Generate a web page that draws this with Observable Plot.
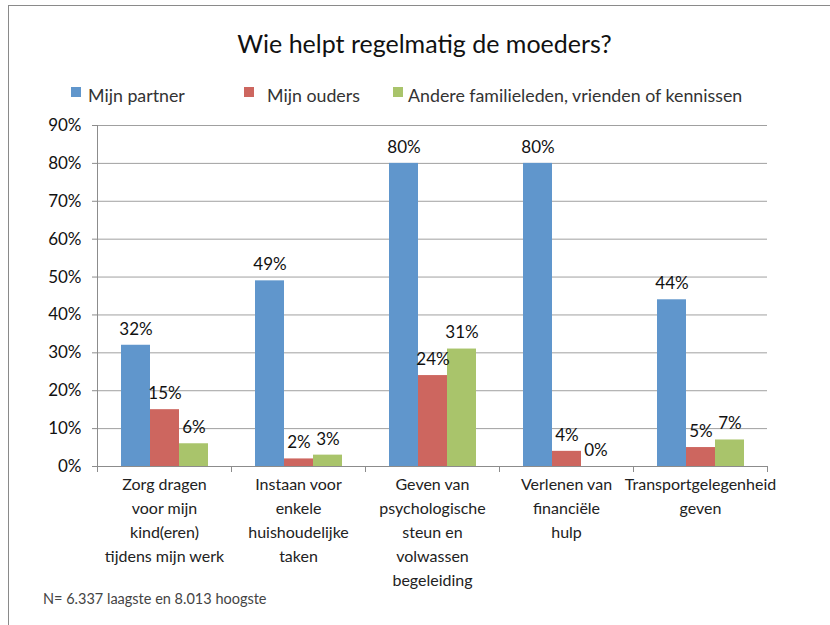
<!DOCTYPE html>
<html>
<head>
<meta charset="utf-8">
<script src="https://cdn.jsdelivr.net/npm/d3@7"></script>
<script src="https://cdn.jsdelivr.net/npm/@observablehq/plot@0.6"></script>
<style>
  html, body { margin: 0; padding: 0; background: #fff; }
  #wrap { position: relative; width: 830px; height: 625px; overflow: hidden; font-family: Lato, "Open Sans", sans-serif; }
  #border { position: absolute; left: 8px; top: 5px; width: 900px; height: 700px; border-left: 1px solid #8a8a8a; border-top: 1px solid #8a8a8a; }
  #title { position: absolute; left: 0; width: 849px; top: 28px; text-align: center; font-size: 25px; color: #111; }
  .leg { position: absolute; top: 84px; font-size: 17.8px; color: #333; white-space: nowrap; line-height: 22px; }
  .sw { position: absolute; width: 10px; height: 10px; }
  #chart { position: absolute; left: 0; top: 115px; }
  #note { position: absolute; left: 43px; top: 590px; font-size: 14.5px; color: #444; }
</style>
</head>
<body>
<div id="wrap">
  <div id="border"></div>
  <div id="title">Wie helpt regelmatig de moeders?</div>
  <div id="legend"></div>
  <div id="chart"></div>
  <div id="note">N= 6.337 laagste en 8.013 hoogste</div>
</div>
<script>
const categories = [
  "Zorg dragen\nvoor mijn\nkind(eren)\ntijdens mijn werk",
  "Instaan voor\nenkele\nhuishoudelijke\ntaken",
  "Geven van\npsychologische\nsteun en\nvolwassen\nbegeleiding",
  "Verlenen van\nfinanciële\nhulp",
  "Transportgelegenheid\ngeven"
];
const series = ["Mijn partner", "Mijn ouders", "Andere familieleden, vrienden of kennissen"];
const partner = [32, 49, 80, 80, 44];
const ouders = [15, 2, 24, 4, 5];
const andere = [6, 3, 31, 0, 7];
const colors = ["#6096CC", "#CD665F", "#A9C46B"];
const yTicks = [0, 10, 20, 30, 40, 50, 60, 70, 80, 90];

const values = [partner, ouders, andere];
const data = categories.flatMap((c, i) => series.map((s, j) => ({cat: c, s, v: values[j][i]})));

// legend
const legendX = [71, 244, 393];
const legendTextX = [88, 267, 408];
const legend = document.getElementById("legend");
series.forEach((s, j) => {
  const sw = document.createElement("div");
  sw.className = "sw";
  sw.style.left = legendX[j] + "px";
  sw.style.top = "87px";
  sw.style.background = colors[j];
  legend.appendChild(sw);
  const t = document.createElement("div");
  t.className = "leg";
  t.style.left = legendTextX[j] + "px";
  t.textContent = s;
  legend.appendChild(t);
});

const axisGray = "#8c8c8c";
const chart = Plot.plot({
  width: 830,
  height: 495,
  marginTop: 10,
  marginBottom: 144,
  marginLeft: 96,
  marginRight: 63,
  style: {fontFamily: "Lato, 'Open Sans', sans-serif", background: "transparent", color: "#111"},
  fx: {domain: categories, padding: 0, axis: null},
  x: {domain: series, paddingInner: 0, paddingOuter: 0.74, axis: null},
  y: {domain: [0, 90], axis: null},
  color: {domain: series, range: colors},
  marks: [
    Plot.gridY(yTicks, {stroke: "#a0a0a0", strokeOpacity: 1}),
    Plot.axisY(yTicks, {label: null, tickSize: 5, tickPadding: 11, tickFormat: d => d + "%", fontSize: 17, stroke: axisGray, fill: "#111"}),
    Plot.barY(data, {fx: "cat", x: "s", y: "v", fill: "s"}),
    Plot.text(data, {fx: "cat", x: "s", y: "v", text: d => d.v + "%", lineAnchor: "middle", dy: -16, fontSize: 17, fill: "#111"}),
    Plot.ruleY([0], {stroke: axisGray}),
    Plot.frame({anchor: "left", facet: "super", stroke: axisGray}),
    Plot.frame({anchor: "left", insetTop: 341, insetBottom: -5, stroke: axisGray}),
    Plot.frame({anchor: "right", insetTop: 341, insetBottom: -5, stroke: axisGray}),
    Plot.text(categories, {fx: d => d, text: d => d, frameAnchor: "bottom", lineAnchor: "top", dy: 6, lineHeight: 1.5, fontSize: 16, fill: "#222"})
  ]
});
document.getElementById("chart").appendChild(chart);
</script>
</body>
</html>
